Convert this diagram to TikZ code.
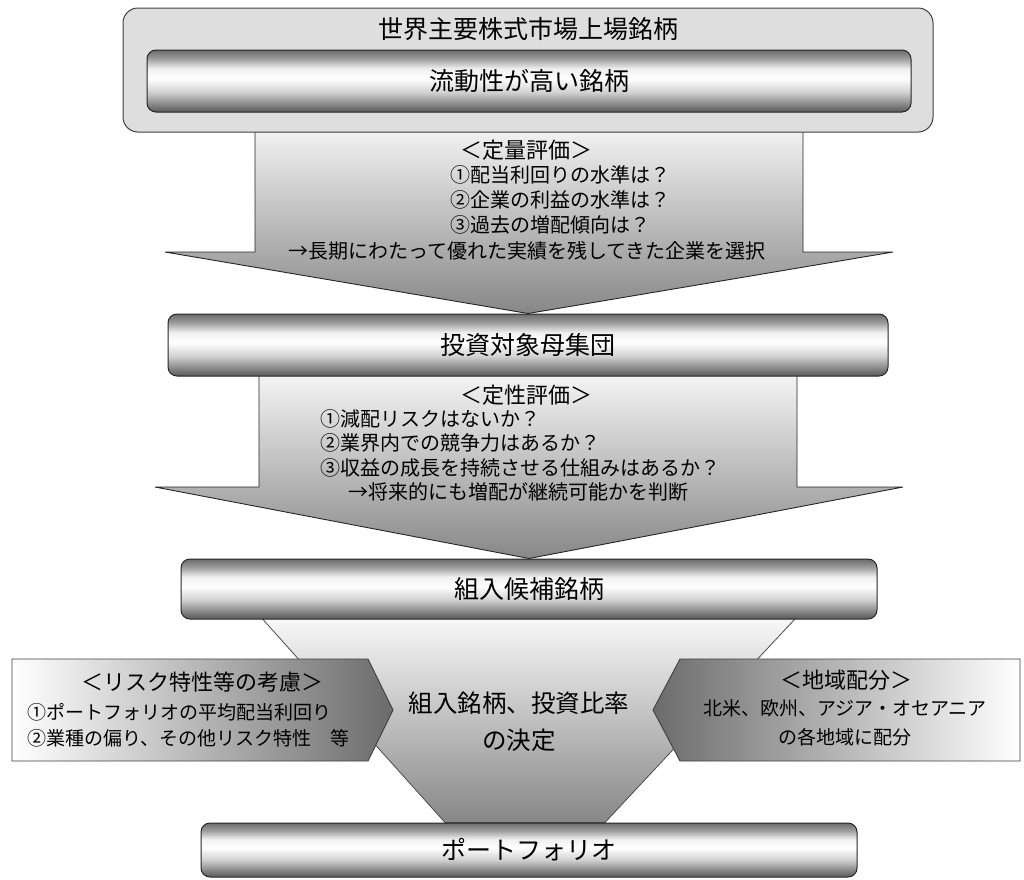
\documentclass[tikz,border=0pt]{standalone}
\usepackage{fontspec}
\setmainfont{Noto Sans CJK JP}
\usetikzlibrary{calc}
\usetikzlibrary{positioning}
\pgfdeclarelayer{bg}
\pgfsetlayers{bg,main}
\pgfdeclareverticalshading{barshade}{100bp}{color(0bp)=(black!65); color(25bp)=(black!65); color(31bp)=(black!48); color(41bp)=(black!18); color(52bp)=(white); color(60bp)=(black!6); color(68bp)=(black!38); color(75bp)=(black!58); color(100bp)=(black!58)}
\tikzset{
  outerbox/.style={draw=black!75, line width=1pt, fill=black!13, rounded corners=15pt},
  barbox/.style={draw=black!85, line width=1pt, shading=barshade, rounded corners=9pt, inner sep=0pt},
  blockarrow/.style={draw=black!85, line width=0.9pt, top color=black!3, bottom color=black!47},
  funnel/.style={draw=black!70, line width=0.8pt, top color=white, bottom color=black!47},
  leftbox/.style={draw=black!75, line width=0.9pt, left color=white, right color=black!58},
  rightbox/.style={draw=black!75, line width=0.9pt, left color=black!58, right color=white},
  bigtext/.style={font=\fontsize{25}{30}\selectfont},
  headtext/.style={inner sep=0pt, font=\fontsize{22}{26}\selectfont},
  bodytext/.style={inner sep=0pt, font=\fontsize{20}{24}\selectfont},
  sidetext/.style={inner sep=0pt, font=\fontsize{19}{23}\selectfont},
  midtext/.style={inner sep=0pt, font=\fontsize{24.5}{29}\selectfont}
}
\begin{document}
\begin{tikzpicture}[x=1pt, y=-1pt]
    \useasboundingbox (0,0) rectangle (1024,879);
    % boxes
    \node[outerbox, minimum width=810pt, minimum height=124pt] (world) at (528,70) {};
    \node[bigtext, inner sep=0pt] (worldlabel) at (528,29) {世界主要株式市場上場銘柄};
    \node[barbox, bigtext, minimum width=764pt, minimum height=62pt] (liquid) at (529,81) {流動性が高い銘柄};
    \node[barbox, bigtext, minimum width=720pt, minimum height=62pt] (pool) at (528,345) {投資対象母集団};
    \node[barbox, bigtext, minimum width=696pt, minimum height=60pt] (cand) at (529,589) {組入候補銘柄};
    \node[barbox, bigtext, minimum width=656pt, minimum height=54pt] (pf) at (529,850) {ポートフォリオ};
    \begin{pgfonlayer}{bg}
        \fill[white] (0,0) rectangle (1024,879);
        \draw[blockarrow] (255,120) -- (255,252) -- (165,252) -- (pool.north)
            -- (893,252) -- (803,252) -- (803,120) -- cycle;
        \draw[blockarrow] (259,370) -- (259,487) -- (155,487) -- (cand.north)
            -- (903,487) -- (797,487) -- (797,370) -- cycle;
        \draw[funnel] (250,605) -- (808,605) -- ($(pf.north)+(76,0)$)
            -- ($(pf.north)+(-84,0)$) -- cycle;
    \end{pgfonlayer}
    % side boxes
    \draw[leftbox] (12,659) -- (368,659) -- (393,710) -- (368,761) -- (12,761) -- cycle;
    \draw[rightbox] (680,659) -- (1020,659) -- (1020,761) -- (680,761) -- (653,710) -- cycle;
    % quantitative
    \node[headtext] (qhead) at (526,150) {＜定量評価＞};
    \node[bodytext, anchor=west] (q1) at (450,175) {①配当利回りの水準は？};
    \node[bodytext, anchor=west] (q2) at (450,200) {②企業の利益の水準は？};
    \node[bodytext, anchor=west] (q3) at (450,225) {③過去の増配傾向は？};
    \node[bodytext] (qsel) at (527,251) {→長期にわたって優れた実績を残してきた企業を選択};
    % qualitative
    \node[headtext] (chead) at (526,395) {＜定性評価＞};
    \node[bodytext, anchor=west] (c1) at (320,419) {①減配リスクはないか？};
    \node[bodytext, anchor=west] (c2) at (320,443) {②業界内での競争力はあるか？};
    \node[bodytext, anchor=west] (c3) at (320,468) {③収益の成長を持続させる仕組みはあるか？};
    \node[bodytext, anchor=west] (cjudge) at (348,492) {→将来的にも増配が継続可能かを判断};
    % risk, decision, region
    \node[headtext] (riskhead) at (202,682) {＜リスク特性等の考慮＞};
    \node[sidetext, anchor=west] (risk1) at (27,712) {①ポートフォリオの平均配当利回り};
    \node[sidetext, anchor=west] (risk2) at (27,738) {②業種の偏り、その他リスク特性　等};
    \node[midtext] (decide1) at (519,703) {組入銘柄、投資比率};
    \node[midtext] (decide2) at (519,740) {の決定};
    \node[headtext] (areahead) at (846,680) {＜地域配分＞};
    \node[sidetext] (area1) at (845,708) {北米、欧州、アジア・オセアニア};
    \node[sidetext] (area2) at (845,737) {の各地域に配分};
\end{tikzpicture}
\end{document}
